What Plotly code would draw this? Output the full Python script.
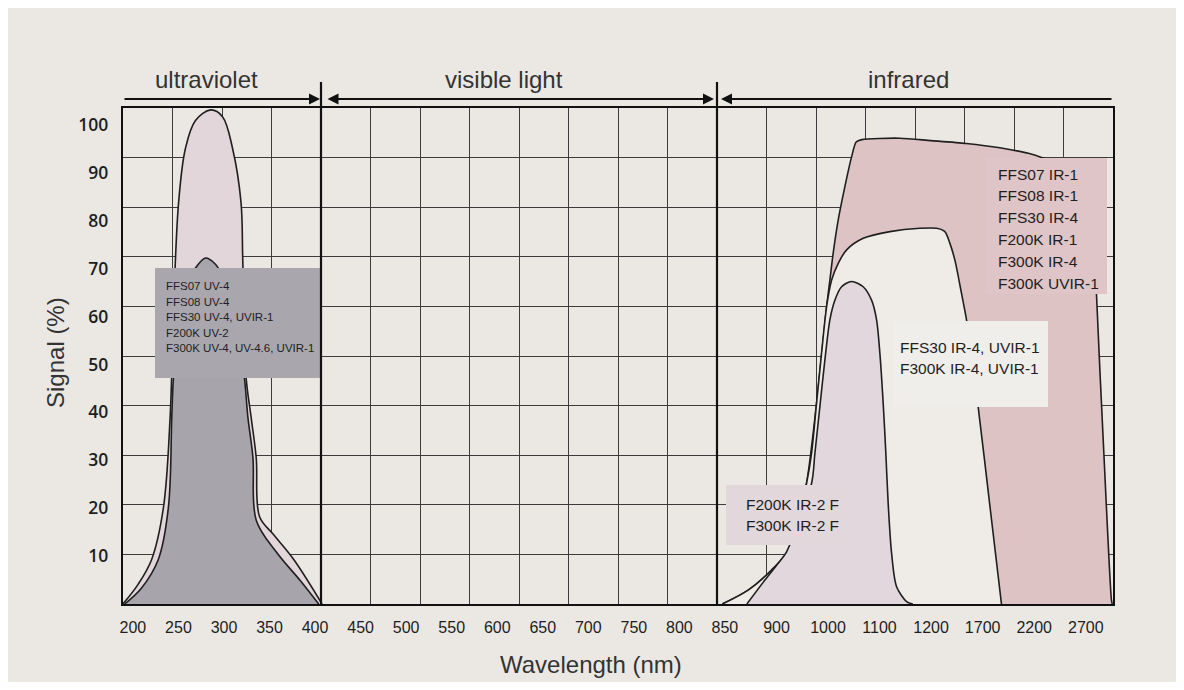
import numpy as np
import plotly.graph_objects as go

# ---------------- data ----------------
TICK_NM = [200, 250, 300, 350, 400, 450, 500, 550, 600, 650, 700, 750, 800, 850,
           900, 1000, 1100, 1200, 1700, 2200, 2700]
TICK_TEXT = [str(v) for v in TICK_NM]
Y_TICKS = [10, 20, 30, 40, 50, 60, 70, 80, 90, 100]

UV_OUTER_NM = [189, 205.7, 220.6, 233.5, 240.9, 244.6, 250.2, 257.6, 268.7, 285.4, 298.4,
               309.5, 318.7, 320.6, 324.2, 329.7, 335.4, 339.1, 353.9, 376.2, 407.7]
UV_OUTER_SIG = [0, 4.1, 9.3, 20.1, 39.1, 61.4, 83.8, 95.0, 100.9, 103.1, 101.7,
                95.0, 83.8, 71.9, 47.5, 39.1, 30.5, 18.2, 14.6, 9.4, 0]

UV_INNER_NM = [190.9, 209.3, 227.9, 239.0, 242.7, 244.6, 251.7, 260.5, 268.7, 279.8, 290.1,
               297.8, 312.1, 322.4, 326.2, 331.8, 335.4, 357.7, 383.7, 404.0]
UV_INNER_SIG = [0, 3.3, 9.3, 20.2, 39.1, 47.3, 59.3, 66.8, 70.1, 72.2, 71.0,
                68.7, 61.4, 47.3, 39.1, 30.5, 17.5, 10.8, 4.9, 0]

IR1_NM = [847.3, 872.6, 895.3, 929.3, 958.4, 977.8, 997.2, 1003.6, 1010, 1019.7, 1032.7,
          1045.7, 1054.6, 1065.6, 1138.7, 1199.4, 1539.4, 1865.8, 2185.8, 2380.3, 2641.6,
          2767.6, 2803.5, 2874, 2949, 2957]
IR1_SIG = [0, 2.9, 7.1, 12.0, 25.2, 41.9, 62.0, 67.6, 73.2, 80.1, 87.1,
           93.3, 96.4, 96.9, 97.2, 96.7, 96.1, 95.2, 93.8, 92.3, 90.6,
           88.5, 64.8, 32.1, 0.8, 0]

IR4_NM = [847.3, 872.6, 895.3, 929.3, 958.4, 968.1, 977.8, 987.5, 997.2, 1007, 1019.8,
          1036.1, 1068.3, 1120, 1178.1, 1252.4, 1332.9, 1381.4, 1429.9, 1494.8, 1543.3,
          1594.7, 1655.8, 1768.8, 1882.3]
IR4_SIG = [0, 2.9, 7.1, 12.0, 25.2, 31.5, 41.9, 52.4, 62.0, 67.6, 71.1,
           73.9, 76.3, 77.7, 78.4, 78.4, 77.7, 75.3, 71.8, 64.8, 59.3,
           50.9, 41.2, 20.7, 0]

IR2F_NM = [871.3, 888.8, 903.3, 919.6, 968.1, 974.5, 984.2, 993.9, 1003.6, 1013.3, 1026.3,
           1045.7, 1068.2, 1084.5, 1094.2, 1100.6, 1107, 1112.2, 1116.7, 1123.3, 1133,
           1152.4, 1164.6]
IR2F_SIG = [0, 5.0, 8.5, 10.9, 25.2, 31.4, 41.2, 50.9, 59.3, 63.4, 66.2,
            67.3, 66.2, 63.4, 59.3, 52.3, 41.9, 31.4, 21.0, 10.6, 3.6,
            0.5, 0]

UV_LABELS = ["FFS07 UV-4", "FFS08 UV-4", "FFS30 UV-4, UVIR-1", "F200K UV-2",
             "F300K UV-4, UV-4.6, UVIR-1"]
IR1_LABELS = ["FFS07 IR-1", "FFS08 IR-1", "FFS30 IR-4", "F200K IR-1", "F300K IR-4",
              "F300K UVIR-1"]
IR4_LABELS = ["FFS30 IR-4, UVIR-1", "F300K IR-4, UVIR-1"]
IR2F_LABELS = ["F200K IR-2 F", "F300K IR-2 F"]
REGIONS = ["ultraviolet", "visible light", "infrared"]

# ---------------- layout geometry ----------------
W, H = 1168, 674
L, R, T, B = 115, 63, 100, 78
PW, PH = W - L - R, H - T - B
N_GRID_X, N_GRID_Y = 20, 10
Y_MAX = 103.5

# page-pixel coordinates of the plot area (page has an 8px body margin)
PX_LEFT, PX_BOTTOM = 123, 604

# positions of tick labels on the (uniform) grid axis: two evenly spaced groups
LABEL_POS = np.concatenate([np.linspace(0.2, 12.16, 14), np.linspace(12.16, 19.45, 8)[1:]])


def wl_to_pos(nm):
    nm = np.asarray(nm, float)
    pos = np.interp(nm, TICK_NM, LABEL_POS)
    s_lo = (LABEL_POS[1] - LABEL_POS[0]) / (TICK_NM[1] - TICK_NM[0])
    s_hi = (LABEL_POS[-1] - LABEL_POS[-2]) / (TICK_NM[-1] - TICK_NM[-2])
    lo, hi = nm < TICK_NM[0], nm > TICK_NM[-1]
    pos[lo] = LABEL_POS[0] + (nm[lo] - TICK_NM[0]) * s_lo
    pos[hi] = LABEL_POS[-1] + (nm[hi] - TICK_NM[-1]) * s_hi
    return pos


def px_x(px):
    return (px - PX_LEFT) / PW


def px_y(py):
    return (PX_BOTTOM - py) / PH


BG = "#ebe8e4"
OUT = "#1f1f1f"
FONT = "Liberation Sans, Arial, sans-serif"

fig = go.Figure()


def area(nm, sig, fill, smooth):
    fig.add_trace(go.Scatter(
        x=wl_to_pos(nm), y=sig, mode="lines", fill="tozeroy", fillcolor=fill,
        line=dict(color=OUT, width=1.6, shape="spline", smoothing=smooth),
        hoverinfo="skip", showlegend=False))


area(UV_OUTER_NM, UV_OUTER_SIG, "#e3d6da", 1.0)
area(UV_INNER_NM, UV_INNER_SIG, "#a7a4ab", 1.0)
area(IR1_NM, IR1_SIG, "#dec3c5", 0.7)
area(IR4_NM, IR4_SIG, "#efece8", 0.8)
area(IR2F_NM, IR2F_SIG, "#e2d7dc", 0.8)

shapes = []
annotations = []

# label boxes (page pixels)
boxes = [
    (155, 268, 320, 378, "#a9a6ad"),
    (985, 158, 1107, 294, "#dfc5c7"),
    (893, 321, 1048, 407, "#f0eeea"),
    (726, 485, 847, 545, "#e2d7db"),
]
for x0, y0, x1, y1, c in boxes:
    shapes.append(dict(type="rect", xref="paper", yref="paper",
                       x0=px_x(x0), x1=px_x(x1), y0=px_y(y1), y1=px_y(y0),
                       fillcolor=c, line=dict(width=0), layer="above"))


def text_lines(lines, left, top, step, size):
    for i, t in enumerate(lines):
        annotations.append(dict(
            text=t, xref="paper", yref="paper", x=px_x(left), y=px_y(top + i * step),
            xanchor="left", yanchor="middle", showarrow=False,
            font=dict(family=FONT, size=size, color="#1e1e1e")))


text_lines(UV_LABELS, 164, 286, 15.6, 11.5)
text_lines(IR1_LABELS, 996, 174, 21.8, 15.5)
text_lines(IR4_LABELS, 898, 347, 21.5, 15.5)
text_lines(IR2F_LABELS, 744, 504, 21.5, 15.5)

# region separators
for gx in (4, 12):
    shapes.append(dict(type="line", xref="x", yref="paper", x0=gx, x1=gx,
                       y0=0, y1=px_y(82), line=dict(color="#111", width=2.2), layer="above"))

# region arrows
ya = px_y(99)
arrows = [
    (px_x(320) * N_GRID_X, -(320 - 123), "end"),
    (px_x(714) * N_GRID_X, -(714 - 326), "end+start"),
    (px_x(721) * N_GRID_X, (1113 - 721), "end"),
]
for xt, ax, side in arrows:
    annotations.append(dict(text="", x=xt, y=ya, xref="x", yref="paper",
                            ax=ax, ay=0, axref="pixel", ayref="pixel",
                            showarrow=True, arrowhead=2, arrowsize=1.1, arrowwidth=2,
                            arrowside=side, arrowcolor="#111"))

for name, cx in zip(REGIONS, (206, 504, 908)):
    annotations.append(dict(text=name, xref="paper", yref="paper", x=px_x(cx), y=px_y(79),
                            xanchor="center", yanchor="middle", showarrow=False,
                            font=dict(family=FONT, size=24, color="#333")))

annotations.append(dict(text="Wavelength (nm)", xref="paper", yref="paper",
                        x=px_x(591), y=px_y(664), xanchor="center", yanchor="middle",
                        showarrow=False, font=dict(family=FONT, size=24, color="#333")))
annotations.append(dict(text="Signal (%)", xref="paper", yref="paper",
                        x=px_x(55), y=px_y(353), xanchor="center", yanchor="middle",
                        textangle=-90, showarrow=False,
                        font=dict(family=FONT, size=24, color="#333")))

GRID = "#3c3c3c"
fig.update_layout(
    width=W, height=H, autosize=False,
    margin=dict(l=L, r=R, t=T, b=B, pad=0),
    paper_bgcolor=BG, plot_bgcolor=BG,
    shapes=shapes, annotations=annotations, showlegend=False,
    xaxis=dict(range=[0, N_GRID_X], tickmode="array", tickvals=LABEL_POS, ticktext=TICK_TEXT,
               showgrid=False, zeroline=False, ticks="", ticklabelstandoff=8,
               tickfont=dict(family="Liberation Sans Narrow, Arial Narrow, Liberation Sans, sans-serif",
                             size=16, color="#1e1e1e"),
               showline=True, linewidth=2, linecolor="#111", mirror=True,
               minor=dict(tickvals=list(range(N_GRID_X + 1)), showgrid=True,
                          gridcolor=GRID, gridwidth=1, ticks=""),
               fixedrange=True),
    yaxis=dict(range=[0, Y_MAX], tickmode="array", tickvals=Y_TICKS,
               showgrid=False, zeroline=False, ticks="", ticklabelstandoff=9,
               tickfont=dict(family="Open Sans, sans-serif", size=17.5, color="#1e1e1e",
                             weight=600),
               showline=True, linewidth=2.4, linecolor="#111", mirror=True,
               minor=dict(tickvals=list(np.linspace(0, Y_MAX, N_GRID_Y + 1)), showgrid=True,
                          gridcolor=GRID, gridwidth=1, ticks=""),
               fixedrange=True),
)

fig.write_html("out.html")
